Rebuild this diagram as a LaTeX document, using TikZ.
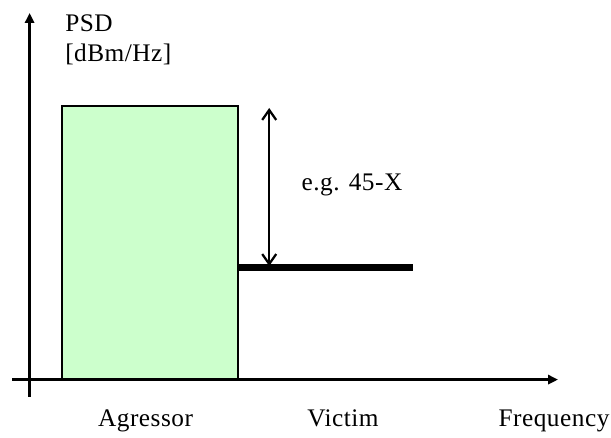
\documentclass[tikz,border=0pt]{standalone}
\usepackage{fontspec}
\setmainfont{Liberation Serif}
\usetikzlibrary{arrows.meta}
\definecolor{agrgreen}{HTML}{CCFFCC}

\begin{document}
\begin{tikzpicture}[
      axis/.style={-{Triangle[length=0.25cm, width=0.23cm]}, line width=1.8pt},
      band/.style={draw=black, fill=agrgreen, line width=1.3pt, inner sep=0pt,
                   minimum width=4.4cm, minimum height=6.82cm},
      lvl/.style={line width=4.4pt},
      dbl/.style={{Straight Barb[length=0.25cm, width=0.35cm]}-{Straight Barb[length=0.25cm, width=0.35cm]},
                  line width=1.6pt},
      lbl/.style={inner sep=0pt, font=\fontsize{18}{21}\selectfont\addfontfeature{LetterSpace=2}}
    ]
    \useasboundingbox (0,0) rectangle (15.275,10.95);

    % Agressor band
    \node[band, anchor=south west] (band) at (1.525,1.46) {};

    % Axes
    \coordinate (xo) at (0.3,1.46);
    \coordinate (xe) at (13.95,1.46);
    \coordinate (yo) at (0.74,1.03);
    \coordinate (ye) at (0.74,10.625);
    \draw[axis] (xo) -- (xe);
    \draw[axis] (yo) -- (ye);

    % Victim level
    \coordinate (lvlend) at (10.325,4.2625);
    \draw[lvl] (band.east |- lvlend) -- (lvlend);

    % Difference
    \coordinate (dtop) at (6.73,8.25);
    \coordinate (dbot) at (6.73,4.3);
    \draw[dbl] (dtop) -- (dbot);
    \node[lbl, anchor=base] (diff) at (8.8,6.18) {e.g. 45-X};

    % Labels
    \node[lbl, anchor=base west] (psd)  at (1.625,10.16) {PSD};
    \node[lbl, anchor=base west] (unit) at (1.625,9.41)  {[dBm/Hz]};
    \node[lbl, anchor=base] (agr)  at (3.64,0.275)  {Agressor};
    \node[lbl, anchor=base] (vic)  at (8.575,0.275) {Victim};
    \node[lbl, anchor=base] (freq) at (13.85,0.275) {Frequency};

  \end{tikzpicture}
\end{document}
